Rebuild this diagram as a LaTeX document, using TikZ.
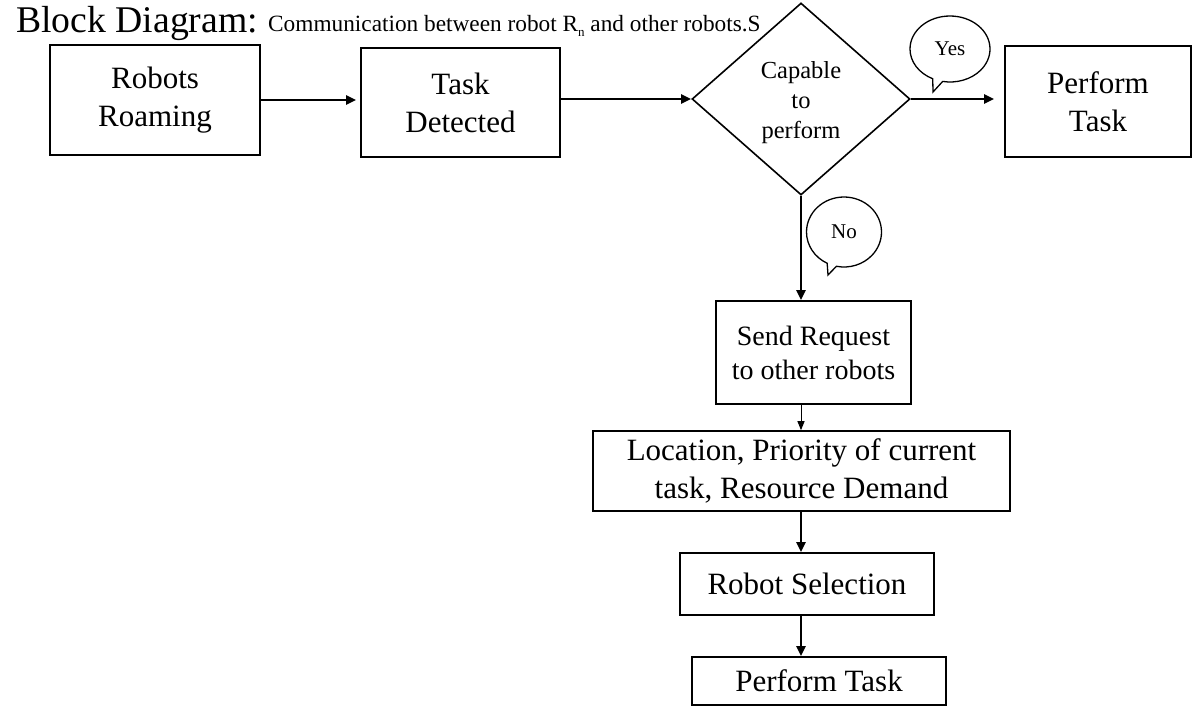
\documentclass[tikz,border=0pt]{standalone}
\usepackage{fontspec}
\setmainfont{Liberation Serif}
\usetikzlibrary{shapes.geometric,shapes.callouts,arrows.meta}
\begin{document}
\begin{tikzpicture}[x=1pt,y=-1pt,
  box/.style={draw,line width=1.6pt,inner sep=0pt,align=center,font=\fontsize{31}{38}\selectfont},
  bubble/.style={ellipse callout,draw,line width=1.3pt,inner sep=0pt,font=\fontsize{21}{24}\selectfont},
  flow/.style={line width=2.4pt,-{Triangle[length=10pt,width=9pt]}},
  thinflow/.style={line width=1pt,-{Triangle[length=9pt,width=7pt]}}]
\useasboundingbox (0,0) rectangle (1197,712);
\node[anchor=base west,inner sep=0pt,font=\fontsize{37.7}{40}\selectfont] (title) at (16,32) {Block Diagram:};
\node[anchor=base west,inner sep=0pt,font=\fontsize{23.3}{26}\selectfont] (sub) at (268,31) {Communication between robot R\raisebox{-5pt}{\fontsize{13}{13}\selectfont n} and other robots.S};
\node[box,minimum width=210pt,minimum height=110pt] (rr) at (155,100) {Robots\\Roaming};
\node[box,minimum width=199pt,minimum height=109pt] (td) at (460.5,102.5) {Task\\Detected};
\node[diamond,draw,line width=1.6pt,inner sep=0pt,minimum width=218pt,minimum height=192pt] (dm) at (801,99) {};
\node[inner sep=0pt,align=center,font=\fontsize{24.5}{30}\selectfont] (dmtext) at (801,103) {Capable\\to\\perform};
\node[box,minimum width=186pt,minimum height=111pt] (pt1) at (1098,101.5) {Perform\\Task};
\node[bubble,minimum width=80pt,minimum height=66pt,callout absolute pointer={(933,92)}] (yes) at (950,49) {Yes};
\node[bubble,minimum width=75pt,minimum height=70pt,callout absolute pointer={(828,275)}] (no) at (844,232) {No};
\node[box,minimum width=195pt,minimum height=103pt,font=\fontsize{28}{34}\selectfont] (sr) at (813.5,352.5) {Send Request\\to other robots};
\node[box,minimum width=417pt,minimum height=80pt] (loc) at (801.5,471) {Location, Priority of current\\task, Resource Demand};
\node[box,minimum width=254pt,minimum height=62pt] (rs) at (807,584) {Robot Selection};
\node[box,minimum width=254pt,minimum height=48pt] (pt2) at (819,681) {Perform Task};
\draw[flow,shorten >=4pt] (rr.east) -- (td.west |- rr.east);
\draw[flow] (td.east |- dm.west) -- (dm.west);
\draw[flow,shorten >=10pt] (dm.east) -- (pt1.west |- dm.east);
\draw[flow] (dm.south) -- (dm.south |- sr.north);
\draw[thinflow] (dm.south |- sr.south) -- (dm.south |- loc.north);
\draw[flow] (dm.south |- loc.south) -- (dm.south |- rs.north);
\draw[flow] (dm.south |- rs.south) -- (dm.south |- pt2.north);
\end{tikzpicture}
\end{document}
